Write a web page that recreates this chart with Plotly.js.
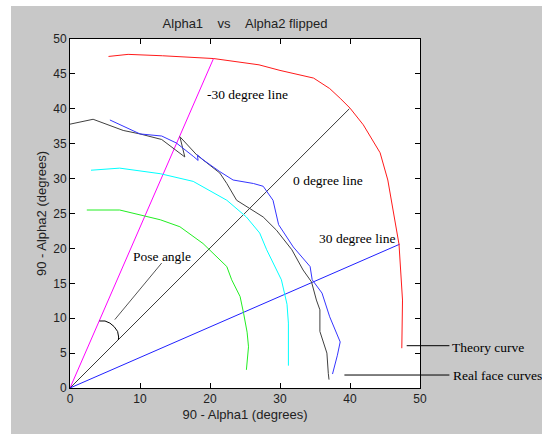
<!DOCTYPE html>
<html>
<head>
<meta charset="utf-8">
<script src="https://cdn.plot.ly/plotly-3.0.1.min.js"></script>
<style>
  html, body { margin: 0; padding: 0; background: #ffffff; width: 542px; height: 434px; overflow: hidden; }
  #chart { position: absolute; left: 11px; top: 6px; width: 531px; height: 428px; }
</style>
</head>
<body>
<div id="chart"></div>
<script>
// ---- data ----
var theoryX = [5.5, 8.3, 13.2, 20.5, 27.0, 30.0, 34.8, 37.1, 38.6, 40.0, 41.9, 44.3, 45.4, 46.1, 47.0, 47.5, 47.4];
var theoryY = [47.5, 47.8, 47.6, 47.2, 46.3, 45.5, 44.4, 42.9, 41.5, 40.1, 37.7, 33.7, 29.8, 25.5, 20.6, 12.6, 5.7];

var innerCyanX = [3.0, 7.1, 12.9, 17.6, 22.4, 25.2, 27.1, 28.1, 30.2, 31.0, 31.2, 31.2];
var innerCyanY = [31.2, 31.5, 30.7, 29.6, 26.9, 24.5, 22.2, 19.8, 15.5, 12.0, 9.3, 3.2];

var innerGreenX = [2.4, 7.1, 12.9, 15.7, 19.0, 22.4, 23.1, 24.3, 24.8, 25.3, 25.5, 25.2];
var innerGreenY = [25.5, 25.5, 24.1, 23.1, 20.7, 17.4, 15.5, 13.1, 10.7, 8.0, 5.9, 2.6];

var realGrayX = [0.0, 3.3, 7.6, 10.0, 13.1, 14.8, 16.4, 15.7, 18.1, 21.4, 22.4, 23.8, 25.7, 27.6, 29.5, 31.7, 33.3, 34.5, 35.2, 35.7, 35.7, 36.7, 36.9, 37.0];
var realGrayY = [37.8, 38.5, 36.9, 36.4, 35.6, 34.3, 33.1, 36.0, 33.4, 30.8, 29.3, 26.9, 25.7, 24.5, 22.6, 19.8, 16.9, 15.2, 12.6, 11.2, 8.1, 5.0, 2.1, 1.2];

var realBlueX = [5.7, 10.0, 13.1, 15.2, 17.6, 18.3, 18.2, 19.0, 21.4, 23.3, 26.2, 27.6, 29.0, 29.8, 31.9, 34.3, 34.6, 36.0, 37.1, 38.6, 38.2, 37.5];
var realBlueY = [38.4, 36.4, 36.1, 35.1, 33.2, 32.6, 33.4, 32.7, 31.0, 29.8, 29.3, 28.9, 26.9, 23.4, 20.2, 17.4, 15.5, 13.6, 10.2, 6.6, 4.7, 2.0];

var lineM30X = [0, 20.5];
var lineM30Y = [0, 47.2];
var line0X = [0, 39.9];
var line0Y = [0, 40.0];
var line30X = [0, 47.1];
var line30Y = [0, 20.6];

var poseArcX = [4.2, 5.0, 5.7, 6.3, 6.8, 6.95, 6.9];
var poseArcY = [9.6, 9.6, 9.3, 8.8, 8.1, 7.3, 6.9];
var posePointerX = [6.4, 13.1];
var posePointerY = [9.8, 17.9];

var xTicks = [0, 10, 20, 30, 40, 50];
var yTicks = [0, 5, 10, 15, 20, 25, 30, 35, 40, 45, 50];

// ---- traces ----
function line(x, y, color, w) {
  return { x: x, y: y, type: 'scatter', mode: 'lines', line: { color: color, width: w || 1 }, hoverinfo: 'skip' };
}
var traces = [
  line(lineM30X, lineM30Y, '#ff00ff'),
  line(line0X, line0Y, '#3a3a3a'),
  line(line30X, line30Y, '#2020ff'),
  line(theoryX, theoryY, '#ff1a1a'),
  line(innerCyanX, innerCyanY, '#00ffff'),
  line(innerGreenX, innerGreenY, '#22ee22'),
  line(realGrayX, realGrayY, '#404040'),
  line(realBlueX, realBlueY, '#3535ff'),
  line(poseArcX, poseArcY, '#000000'),
  line(posePointerX, posePointerY, '#555555')
];

var serif = { family: 'Liberation Serif, Times New Roman, serif', size: 13.5, color: '#000000' };
function note(text, x, y, ref) {
  return { text: text, x: x, y: y, xref: ref ? 'paper' : 'x', yref: ref ? 'paper' : 'y',
           xanchor: 'left', yanchor: 'middle',
           showarrow: false, font: serif, borderpad: 0, borderwidth: 0 };
}

var layout = {
  width: 531, height: 428,
  margin: { l: 59, r: 122, t: 33, b: 46, pad: 0 },
  paper_bgcolor: '#c8c8c8',
  plot_bgcolor: '#ffffff',
  showlegend: false,
  font: { family: 'Arial, Liberation Sans, sans-serif', size: 12, color: '#222222' },
  title: {
    text: 'Alpha1&nbsp;&nbsp;&nbsp;&nbsp;vs&nbsp;&nbsp;&nbsp;&nbsp;Alpha2 flipped',
    font: { family: 'Arial, Liberation Sans, sans-serif', size: 13, color: '#222222' },
    x: 0.4, xref: 'container', xanchor: 'center',
    y: 0.96, yref: 'container', yanchor: 'middle'
  },
  xaxis: {
    range: [0, 50], tickvals: xTicks, ticktext: xTicks.map(String),
    ticks: 'inside', ticklen: 5, tickcolor: '#000000', tickwidth: 1,
    showline: true, linecolor: '#000000', linewidth: 1, mirror: 'ticks',
    showgrid: false, zeroline: false, fixedrange: true,
    tickfont: { size: 12, color: '#222222' },
    title: { text: '90 - Alpha1 (degrees)', font: { size: 13, color: '#222222' }, standoff: 4 }
  },
  yaxis: {
    range: [0, 50], tickvals: yTicks, ticktext: yTicks.map(String),
    ticks: 'inside', ticklen: 5, tickcolor: '#000000', tickwidth: 1,
    showline: true, linecolor: '#000000', linewidth: 1, mirror: 'ticks',
    showgrid: false, zeroline: false, fixedrange: true,
    tickfont: { size: 12, color: '#222222' },
    title: { text: '90 - Alpha2 (degrees)', font: { size: 13, color: '#222222' }, standoff: 3 }
  },
  annotations: [
    note('-30 degree line', 19.6, 42.0),
    note('0 degree line', 31.8, 29.7),
    note('30 degree line', 35.6, 21.4),
    note('Pose angle', 9.0, 18.8),
    note('Theory curve', 1.092, 0.116, true),
    note('Real face curves', 1.095, 0.037, true)
  ],
  shapes: [
    { type: 'line', xref: 'paper', yref: 'paper', x0: 0.962, x1: 1.084, y0: 0.1212, y1: 0.1212, line: { color: '#000000', width: 1 } },
    { type: 'line', xref: 'paper', yref: 'paper', x0: 0.784, x1: 1.084, y0: 0.0372, y1: 0.0372, line: { color: '#000000', width: 1 } }
  ]
};

// title centred over the plot area
layout.title.x = (59 + 350 / 2) / 531;

Plotly.newPlot('chart', traces, layout, { displayModeBar: false, staticPlot: true });
</script>
</body>
</html>
